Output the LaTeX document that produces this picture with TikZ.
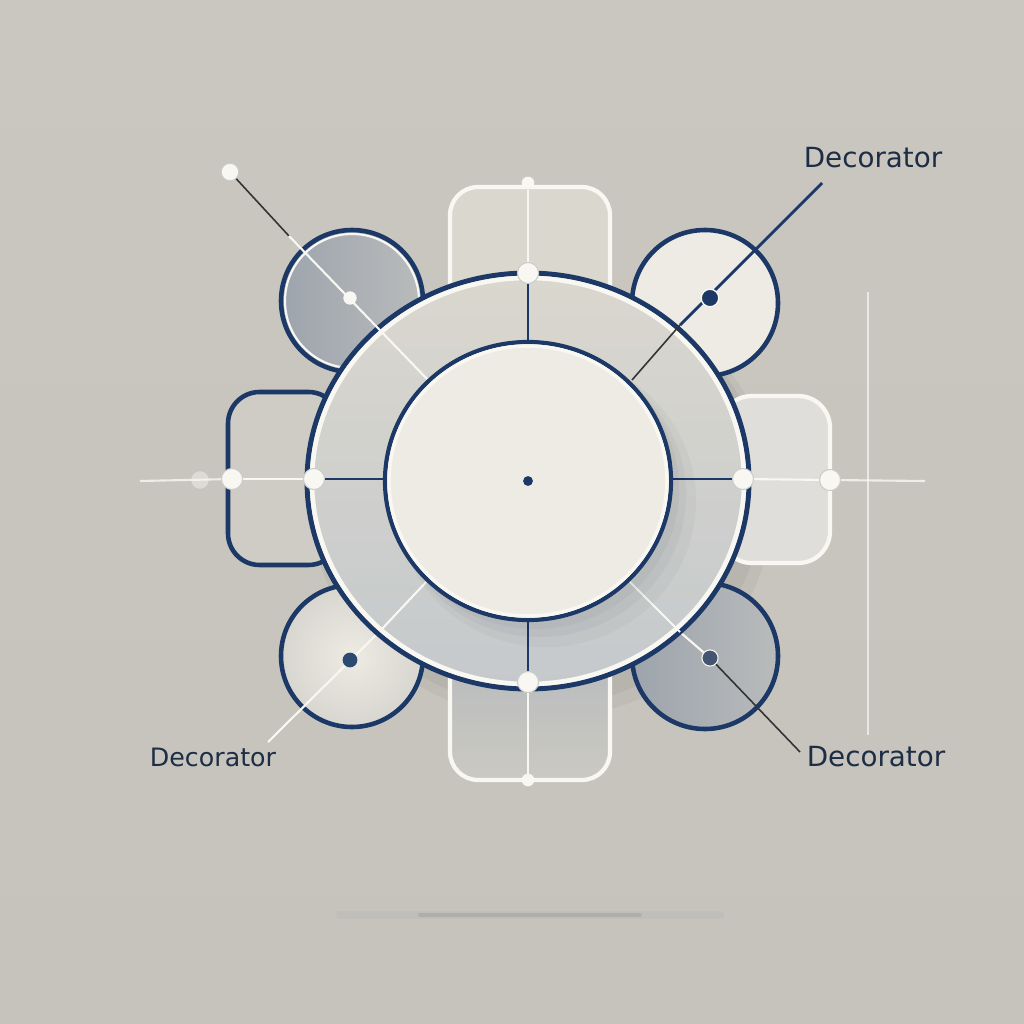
\documentclass[tikz,border=0pt]{standalone}
\usepackage{fontspec}
\setmainfont{DejaVu Sans}
\usetikzlibrary{calc}
\definecolor{bgc}{HTML}{C5C3BB}
\definecolor{bgtop}{HTML}{C9C7C0}
\definecolor{navy}{HTML}{1C3867}
\definecolor{dotblue}{HTML}{2B4A72}
\definecolor{wline}{HTML}{F8F7F2}
\definecolor{cream}{HTML}{EDEBE3}
\definecolor{ringtop}{HTML}{DAD7CE}
\definecolor{ringbot}{HTML}{C5C9CC}
\definecolor{grayblue}{HTML}{9DA4AD}
\definecolor{graylight}{HTML}{B9BBBB}
\definecolor{txt}{HTML}{1D2D45}
\tikzset{
  navyedge/.style={draw=navy, line width=1.3pt},
  whiteedge/.style={draw=wline, line width=1.2pt},
  bigdot/.style={circle, fill=wline, draw=gray!40, line width=0.3pt, minimum size=6pt, inner sep=0pt},
  smalldot/.style={circle, fill=wline, minimum size=3.6pt, inner sep=0pt},
  wire/.style={draw=wline, line width=0.6pt},
  dwire/.style={draw=black!80, line width=0.45pt},
  nwire/.style={draw=navy, line width=0.8pt},
  lbl/.style={text=txt, font=\fontsize{7.9pt}{10pt}\selectfont, inner sep=0pt}
}
\begin{document}
\begin{tikzpicture}[x=0.1mm,y=-0.1mm]
\shade[top color=bgtop, bottom color=bgc] (0,0) rectangle (1024,1024);
\useasboundingbox (0,0) rectangle (1024,1024);
% faint floor line
\draw[gray!70, line width=2.5pt, opacity=0.15, line cap=round] (340,915) -- (720,915);
\draw[gray!80!black, line width=1pt, opacity=0.18, line cap=round] (420,915) -- (640,915);
% thin vertical line at right
\draw[wline, line width=0.4pt, opacity=0.7] (868,292) -- (868,735);
% coordinates
\coordinate (C) at (528,481);
\coordinate (LE) at (140,481);
\coordinate (RE) at (925,481);
\coordinate (TLend) at (230,172);
\coordinate (TRend) at (822,183);
\coordinate (BLend) at (268,742);
\coordinate (BRend) at (800,752);
\coordinate (TLc) at (289,236);
\coordinate (TLr) at (372,322);
\coordinate (TLi) at (428,380);
% ring shadow
\fill[black, opacity=0.04] (542,500) ellipse [x radius=232, y radius=219];
\fill[black, opacity=0.04] (538,494) ellipse [x radius=226, y radius=213];
% rectangles
\filldraw[whiteedge, fill=ringtop, rounded corners=8pt] (450,187) rectangle (610,320);
\shade[top color=ringbot!80!gray, bottom color=bgc!90!white, rounded corners=8pt] (450,650) rectangle (610,780);
\draw[whiteedge, rounded corners=8pt] (450,650) rectangle (610,780);
\filldraw[navyedge, fill=bgc!85!white, rounded corners=9pt] (228,392) rectangle (340,565);
\filldraw[whiteedge, fill=bgc!55!white, rounded corners=9pt] (720,396) rectangle (830,563);
% side circles
\shade[left color=grayblue, right color=graylight] (352,301) circle [radius=71];
\draw[navyedge] (352,301) circle [radius=71];
\draw[wline, line width=0.6pt] (352,301) circle [radius=67];
\filldraw[navyedge, fill=cream] (705,303) circle [radius=73];
\shade[inner color=cream, outer color=cream!80!gray] (352,656) circle [radius=71];
\draw[navyedge] (352,656) circle [radius=71];
\shade[left color=grayblue, right color=graylight] (705,656) circle [radius=73];
\draw[navyedge] (705,656) circle [radius=73];
% outer dots and wires
\node[smalldot] (TD) at (528,183) {};
\node[bigdot] (LL) at (232,479) {};
\node[circle, fill=wline, opacity=0.45, minimum size=5pt, inner sep=0pt] (LF) at (200,480) {};
\node[bigdot] (RR) at (830,480) {};
\node[bigdot, minimum size=5pt] (TLdot0) at (TLend) {};
\draw[wire, opacity=0.8] (LE) -- (LL);
\draw[wire] (LL) -- (314,479);
\draw[wire] (743,479) -- (RR);
\draw[wire, opacity=0.8] (RR) -- (RE);
\draw[wire] (TD) -- (528,273);
\draw[wire] (528,682) -- (528,780);
\draw[dwire] (TLdot0) -- (TLc);
\draw[wire] (TLc) -- (TLr);
\draw[nwire] (TRend) -- (680,325);
\draw[wire] (BLend) -- (381,630);
\draw[wire] (680,632) -- (710,658);
\draw[dwire] (710,658) -- (BRend);
% ring
\shade[top color=ringtop, bottom color=ringbot] (C) ellipse [x radius=221, y radius=208];
\draw[navyedge, line width=1.4pt] (C) ellipse [x radius=221, y radius=208];
\draw[wline, line width=1.3pt] (C) ellipse [x radius=216, y radius=203];
% ring spokes
\draw[nwire] (528,273) -- (528,342);
\draw[nwire] (528,620) -- (528,682);
\draw[nwire] (314,479) -- (386,479);
\draw[nwire] (672,479) -- (743,479);
\draw[wire] (TLr) -- (TLi);
\draw[dwire] (680,325) -- (632,380);
\draw[wire] (381,630) -- (428,580);
\draw[wire] (628,580) -- (680,632);
% disk shadow and disk
\fill[navy!40!black, opacity=0.03] (546,501) ellipse [x radius=150, y radius=146];
\fill[navy!40!black, opacity=0.035] (540,495) ellipse [x radius=146, y radius=142];
\fill[navy!40!black, opacity=0.035] (535,489) ellipse [x radius=144, y radius=140];
\filldraw[draw=navy, line width=1.2pt, fill=cream] (C) ellipse [x radius=143, y radius=139];
\draw[wline, line width=1pt] (C) ellipse [x radius=139, y radius=135];
\node[circle, fill=navy, minimum size=2.8pt, inner sep=0pt] (Cdot) at (C) {};
% ring dots
\node[bigdot] (T) at (528,273) {};
\node[bigdot] (B) at (528,682) {};
\node[bigdot] (L) at (314,479) {};
\node[bigdot] (R) at (743,479) {};
\node[smalldot] (BB) at (528,780) {};
% side circle dots
\node[circle, fill=wline, minimum size=3.8pt, inner sep=0pt] (TL) at (350,298) {};
\node[circle, fill=navy, draw=wline, line width=0.4pt, minimum size=5pt, inner sep=0pt] (TR) at (710,298) {};
\node[circle, fill=dotblue, minimum size=4.2pt, inner sep=0pt] (BL) at (350,660) {};
\node[circle, fill=navy!60!gray, draw=wline, line width=0.3pt, minimum size=4.6pt, inner sep=0pt] (BR) at (710,658) {};
% labels
\node[lbl] (lab1) at (873,158) {Decorator};
\node[lbl, font=\fontsize{7.2pt}{9pt}\selectfont] (lab2) at (213,757) {Decorator};
\node[lbl] (lab3) at (876,757) {Decorator};
\end{tikzpicture}
\end{document}
